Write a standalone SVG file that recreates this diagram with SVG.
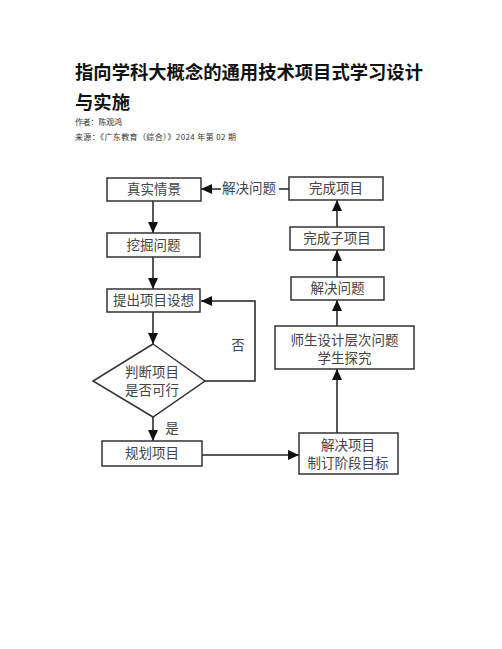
<svg xmlns="http://www.w3.org/2000/svg" width="502" height="649" viewBox="0 0 502 649">
<style>
.title{font-family:"Noto Sans CJK SC","Liberation Sans",sans-serif;font-weight:bold;font-size:18px;fill:#111}
.meta{font-family:"Noto Sans CJK SC","Liberation Sans",sans-serif;font-size:8px;fill:#333}
.box{fill:#fff;stroke:#333;stroke-width:1.5}
.lbl{font-family:"Liberation Serif","Noto Sans CJK SC",serif;font-size:13.5px;fill:#444;text-anchor:middle;dominant-baseline:central}
.con{fill:none;stroke:#222;stroke-width:1.5}
</style>
<defs>
<marker id="ah" markerUnits="userSpaceOnUse" markerWidth="12" markerHeight="10" refX="11" refY="5" orient="auto">
<path d="M0,0 L11,5 L0,10 Z" fill="#111"/>
</marker>
</defs>
<rect width="502" height="649" fill="#fff"/>
<text class="title" x="75" y="79" textLength="348" lengthAdjust="spacingAndGlyphs">指向学科大概念的通用技术项目式学习设计</text>
<text class="title" x="75" y="109" textLength="55" lengthAdjust="spacingAndGlyphs">与实施</text>
<text class="meta" x="75" y="125" textLength="47">作者：陈观鸿</text>
<text class="meta" x="75" y="140" textLength="161">来源：《广东教育（综合）》2024 年第 02 期</text>

<g id="connectors">
<line class="con" x1="153" y1="201" x2="153" y2="233" marker-end="url(#ah)"/>
<line class="con" x1="153" y1="257" x2="153" y2="289" marker-end="url(#ah)"/>
<line class="con" x1="153" y1="312" x2="153" y2="344" marker-end="url(#ah)"/>
<line class="con" x1="153" y1="417" x2="153" y2="441" marker-end="url(#ah)"/>
<polyline class="con" points="205,381 255,381 255,301 201,301" marker-end="url(#ah)"/>
<text class="lbl" x="238" y="345">否</text>
<text class="lbl" x="172" y="428">是</text>
<line class="con" x1="202" y1="455" x2="299" y2="455" marker-end="url(#ah)"/>
<line class="con" x1="337" y1="433" x2="337" y2="369" marker-end="url(#ah)"/>
<line class="con" x1="337" y1="326" x2="337" y2="300" marker-end="url(#ah)"/>
<line class="con" x1="337" y1="277" x2="337" y2="250" marker-end="url(#ah)"/>
<line class="con" x1="337" y1="227" x2="337" y2="200" marker-end="url(#ah)"/>
<line class="con" x1="289" y1="189" x2="279" y2="189"/>
<line class="con" x1="221" y1="189" x2="201" y2="189" marker-end="url(#ah)"/>
<text class="lbl" x="249" y="188.5">解决问题</text>
</g>

<g id="n1"><rect class="box" x="107" y="178" width="94" height="23"/><text class="lbl" x="154" y="189.5">真实情景</text></g>
<g id="n2"><rect class="box" x="107" y="233" width="93" height="24"/><text class="lbl" x="153.5" y="245">挖掘问题</text></g>
<g id="n3"><rect class="box" x="107" y="289" width="93" height="23"/><text class="lbl" x="153.5" y="300.5">提出项目设想</text></g>
<g id="n4"><polygon class="box" points="153,344 205,381 153,417 93,381"/><text class="lbl" x="152" y="372">判断项目</text><text class="lbl" x="152" y="390">是否可行</text></g>
<g id="n5"><rect class="box" x="102" y="441" width="100" height="25"/><text class="lbl" x="152" y="453.5">规划项目</text></g>
<g id="n6"><rect class="box" x="299" y="433" width="99" height="41"/><text class="lbl" x="348" y="445">解决项目</text><text class="lbl" x="348" y="463">制订阶段目标</text></g>
<g id="n7"><rect class="box" x="275" y="326" width="139" height="43"/><text class="lbl" x="344.5" y="340">师生设计层次问题</text><text class="lbl" x="344.5" y="358">学生探究</text></g>
<g id="n8"><rect class="box" x="291" y="277" width="93" height="23"/><text class="lbl" x="337.5" y="288.5">解决问题</text></g>
<g id="n9"><rect class="box" x="290" y="227" width="94" height="23"/><text class="lbl" x="337" y="238.5">完成子项目</text></g>
<g id="n10"><rect class="box" x="289" y="177" width="94" height="23"/><text class="lbl" x="336" y="188.5">完成项目</text></g>
</svg>
